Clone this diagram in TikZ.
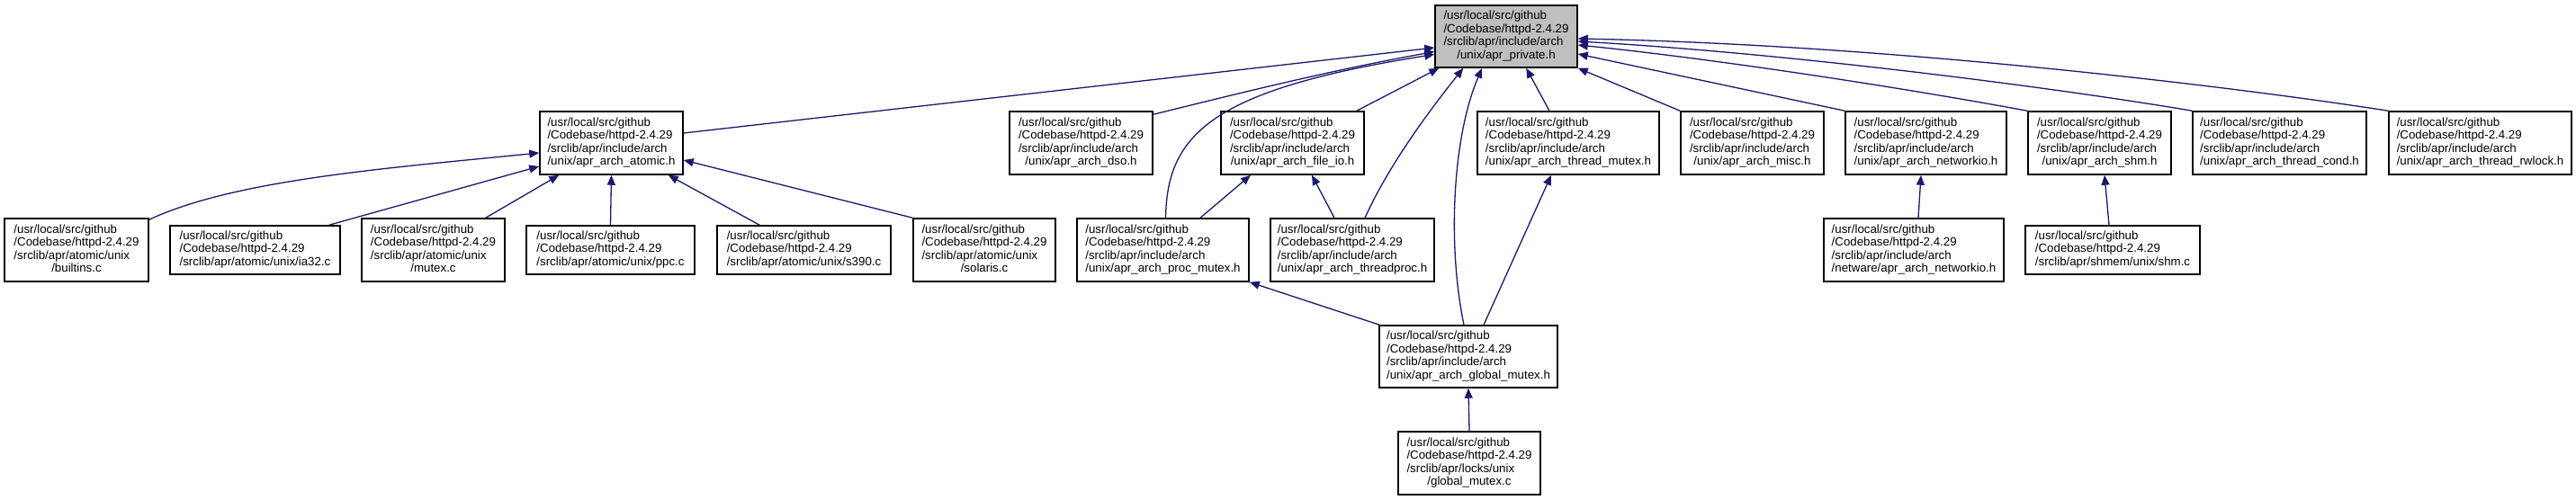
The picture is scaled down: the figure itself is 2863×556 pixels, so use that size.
\documentclass[tikz,border=0pt]{standalone}
\usepackage{fontspec}
\setmainfont{Liberation Sans}
\usetikzlibrary{arrows.meta}
\definecolor{edgeblue}{HTML}{191970}
\definecolor{rootgray}{HTML}{BFBFBF}
\newcommand\boxfont{\fontsize{13.3pt}{14.6pt}\selectfont}
\newcommand\fourl[4]{\begin{tabular}{@{}l@{}}#1\\#2\\#3\\\multicolumn{1}{@{}c@{}}{#4}\end{tabular}}
\newcommand\threel[3]{\begin{tabular}{@{}l@{}}#1\\#2\\\multicolumn{1}{@{}c@{}}{#3}\end{tabular}}
\newcommand\pa{/usr/local/src/github}
\newcommand\pb{/Codebase/httpd-2.4.29}
\newcommand\pc{/srclib/apr/include/arch}
\begin{document}
\begin{tikzpicture}[x=1pt,y=-1pt,
  box/.style={draw=black, line width=1.5pt, inner sep=0pt, font=\boxfont, fill=white},
  edge/.style={draw=edgeblue, line width=1.3pt, -{Triangle[length=11pt,width=9pt]}}]
\useasboundingbox (0,0) rectangle (2863,556);
% rank 0
\node[box, fill=rootgray, minimum width=158pt, minimum height=69pt] (root) at (1674,40.5) {\fourl{\pa}{\pb}{\pc}{/unix/apr\_private.h}};
% rank 1
\node[box, minimum width=159pt, minimum height=70pt] (atomic) at (679.5,159) {\fourl{\pa}{\pb}{\pc}{/unix/apr\_arch\_atomic.h}};
\node[box, minimum width=159pt, minimum height=70pt] (dso) at (1201.5,159) {\fourl{\pa}{\pb}{\pc}{/unix/apr\_arch\_dso.h}};
\node[box, minimum width=159pt, minimum height=70pt] (fileio) at (1436.5,159) {\fourl{\pa}{\pb}{\pc}{/unix/apr\_arch\_file\_io.h}};
\node[box, minimum width=202pt, minimum height=70pt] (tmutex) at (1743,159) {\fourl{\pa}{\pb}{\pc}{/unix/apr\_arch\_thread\_mutex.h}};
\node[box, minimum width=159pt, minimum height=70pt] (misc) at (1947.5,159) {\fourl{\pa}{\pb}{\pc}{/unix/apr\_arch\_misc.h}};
\node[box, minimum width=179pt, minimum height=70pt] (netio) at (2140.5,159) {\fourl{\pa}{\pb}{\pc}{/unix/apr\_arch\_networkio.h}};
\node[box, minimum width=159pt, minimum height=70pt] (shm) at (2333.5,159) {\fourl{\pa}{\pb}{\pc}{/unix/apr\_arch\_shm.h}};
\node[box, minimum width=193pt, minimum height=70pt] (tcond) at (2533.5,159) {\fourl{\pa}{\pb}{\pc}{/unix/apr\_arch\_thread\_cond.h}};
\node[box, minimum width=203pt, minimum height=70pt] (rwlock) at (2756.5,159) {\fourl{\pa}{\pb}{\pc}{/unix/apr\_arch\_thread\_rwlock.h}};
% rank 2
\node[box, minimum width=160pt, minimum height=70pt] (builtins) at (85,278) {\fourl{\pa}{\pb}{/srclib/apr/atomic/unix}{/builtins.c}};
\node[box, minimum width=189pt, minimum height=54pt] (ia32) at (283.5,278) {\threel{\pa}{\pb}{/srclib/apr/atomic/unix/ia32.c}};
\node[box, minimum width=159pt, minimum height=70pt] (mutexc) at (481.5,278) {\fourl{\pa}{\pb}{/srclib/apr/atomic/unix}{/mutex.c}};
\node[box, minimum width=187pt, minimum height=54pt] (ppc) at (678.5,278) {\threel{\pa}{\pb}{/srclib/apr/atomic/unix/ppc.c}};
\node[box, minimum width=193pt, minimum height=54pt] (s390) at (893.5,278) {\threel{\pa}{\pb}{/srclib/apr/atomic/unix/s390.c}};
\node[box, minimum width=158pt, minimum height=70pt] (solaris) at (1094,278) {\fourl{\pa}{\pb}{/srclib/apr/atomic/unix}{/solaris.c}};
\node[box, minimum width=191pt, minimum height=70pt] (procmutex) at (1292.5,278) {\fourl{\pa}{\pb}{\pc}{/unix/apr\_arch\_proc\_mutex.h}};
\node[box, minimum width=182pt, minimum height=70pt] (threadproc) at (1503,278) {\fourl{\pa}{\pb}{\pc}{/unix/apr\_arch\_threadproc.h}};
\node[box, minimum width=200pt, minimum height=70pt] (netware) at (2127,278) {\fourl{\pa}{\pb}{\pc}{/netware/apr\_arch\_networkio.h}};
\node[box, minimum width=194pt, minimum height=54pt] (shmc) at (2348,278) {\threel{\pa}{\pb}{/srclib/apr/shmem/unix/shm.c}};
% rank 3, 4
\node[box, minimum width=198pt, minimum height=69pt] (gmutex) at (1632,396.5) {\fourl{\pa}{\pb}{\pc}{/unix/apr\_arch\_global\_mutex.h}};
\node[box, minimum width=158pt, minimum height=70pt] (gmutexc) at (1633,515) {\fourl{\pa}{\pb}{/srclib/apr/locks/unix}{/global\_mutex.c}};
% edges into root
\draw[edge] ([yshift=11pt]atomic.east) -- ([yshift=-12.5pt]root.west);
\draw[edge] ([yshift=-4pt]dso.north east) .. controls (1380,103) and (1480,78) .. ([yshift=-17pt]root.west);
\draw[edge] ([xshift=3pt]procmutex.north) .. controls (1297,150) and (1345,100) .. ([yshift=-20pt]root.west);
\draw[edge] ([xshift=-9pt]fileio.north east) -- ([xshift=5pt]root.south west);
\draw[edge] ([xshift=14pt]threadproc.north) .. controls (1545,180) and (1595,115) .. ([xshift=32pt]root.south west);
\draw[edge] ([xshift=-5pt]gmutex.north) .. controls (1608,270) and (1615,150) .. ([xshift=53pt]root.south west);
\draw[edge] ([xshift=-21pt]tmutex.north) -- ([xshift=102pt]root.south west);
\draw[edge] (misc.north west) -- (root.south east);
\draw[edge] (netio.north west) -- ([yshift=-19.5pt]root.east);
\draw[edge] (shm.north west) .. controls (2100,95) and (1900,65) .. ([yshift=-9.5pt]root.east);
\draw[edge] (tcond.north west) .. controls (2300,100) and (2000,60) .. ([yshift=-5.5pt]root.east);
\draw[edge] (rwlock.north west) .. controls (2480,96) and (2100,50) .. ([yshift=-2.5pt]root.east);
% other edges
\draw[edge] ([xshift=41.5pt]procmutex.north) -- ([xshift=-46.5pt]fileio.south);
\draw[edge] ([xshift=-20pt]threadproc.north) -- ([xshift=21.5pt]fileio.south);
\draw[edge] ([xshift=1pt]gmutex.north west) -- (procmutex.south east);
\draw[edge] ([xshift=17pt]gmutex.north) -- ([xshift=-19pt]tmutex.south);
\draw[edge] (gmutexc.north) -- (gmutex.south);
\draw[edge] ([xshift=5pt]netware.north) -- ([xshift=-5.5pt]netio.south);
\draw[edge] ([xshift=-4pt]shmc.north) -- ([xshift=5.5pt]shm.south);
% edges into atomic
\draw[edge] ([yshift=-2pt]builtins.north east) .. controls (260,200) and (430,187) .. ([yshift=-11pt]atomic.west);
\draw[edge] ([xshift=-13pt]ia32.north east) -- ([yshift=-26pt]atomic.west);
\draw[edge] ([xshift=-22pt]mutexc.north east) -- ([xshift=22pt]atomic.south west);
\draw[edge] (ppc.north) -- (atomic.south);
\draw[edge] ([xshift=48pt]s390.north west) -- ([xshift=-17pt]atomic.south east);
\draw[edge] (solaris.north west) -- ([yshift=-19pt]atomic.east);
\end{tikzpicture}
\end{document}
